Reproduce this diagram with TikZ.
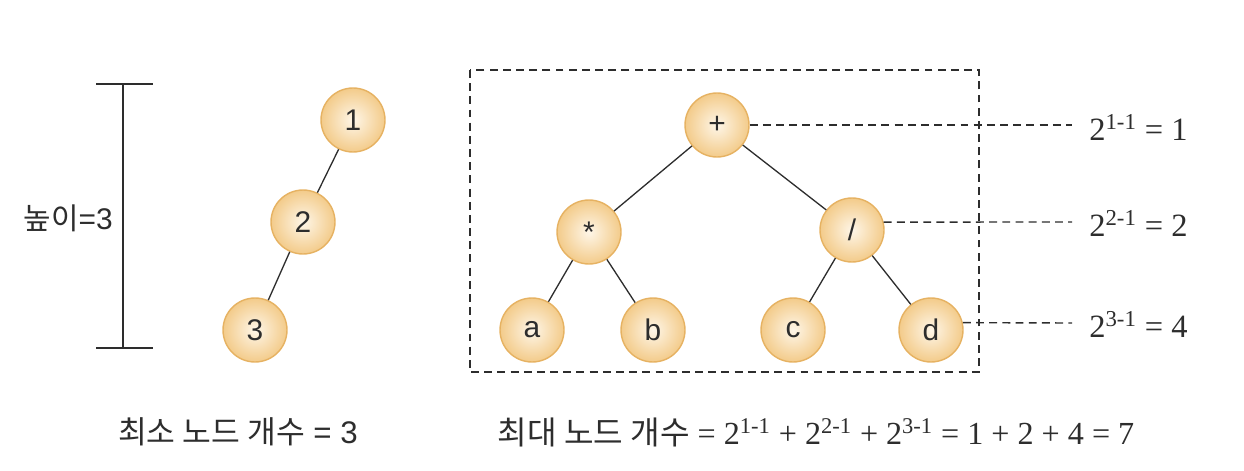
\documentclass[tikz,border=0pt]{standalone}
\usepackage{fontspec}
\setmainfont{Liberation Serif}
\newfontfamily\krfont{Noto Sans CJK KR}
\newfontfamily\arfont{Liberation Sans}
\definecolor{nodein}{RGB}{254,246,232}
\definecolor{nodeout}{RGB}{243,203,138}
\definecolor{nodeline}{RGB}{230,178,98}
\definecolor{ink}{RGB}{45,45,45}
\tikzset{
  tnode/.style={circle, minimum size=1.28cm, inner sep=0pt, draw=nodeline, line width=0.8pt,
    inner color=nodein, outer color=nodeout, font=\arfont\fontsize{17}{20}\selectfont, text=ink},
  edge/.style={draw=ink, line width=0.75pt},
  guide/.style={draw=ink, line width=0.8pt, dash pattern=on 4.5pt off 3pt},
  lbl/.style={font=\fontsize{18.5}{22}\selectfont, text=ink, inner sep=0pt},
  krlbl/.style={font=\krfont\fontsize{17}{20}\selectfont, text=ink, inner sep=0pt},
  bar/.style={draw=ink, line width=1pt}
}
\begin{document}
\begin{tikzpicture}[x=0.02cm,y=-0.02cm]
\useasboundingbox (0,0) rectangle (1244,470);
% height bar
\coordinate (htop) at (123,84);
\coordinate (hbot) at (123,348);
\coordinate (htl) at (96,84);
\coordinate (htr) at (153,84);
\coordinate (hbl) at (96,348);
\coordinate (hbr) at (153,348);
\draw[bar] (htop) -- (hbot);
\draw[bar] (htl) -- (htr);
\draw[bar] (hbl) -- (hbr);
\node[krlbl, anchor=east] (hlbl) at (113,218) {높이\arfont=3};
% left tree
\node[tnode] (n1) at (353,120) {1};
\node[tnode] (n2) at (303,222) {2};
\node[tnode] (n3) at (255,330) {3};
\draw[edge] (n1) -- (n2);
\draw[edge] (n2) -- (n3);
% dashed box
\coordinate (bx1) at (470,70);
\coordinate (bx2) at (979,372);
\draw[guide] (bx1) rectangle (bx2);
% right tree
\node[tnode] (plus) at (717,125) {+};
\node[tnode] (mul) at (589,232) {*};
\node[tnode] (div) at (852,230) {/};
\node[tnode] (a) at (532,330) {a};
\node[tnode] (b) at (653,330) {b};
\node[tnode] (c) at (793,330) {c};
\node[tnode] (d) at (931,330) {d};
\draw[edge] (plus) -- (mul);
\draw[edge] (plus) -- (div);
\draw[edge] (mul) -- (a);
\draw[edge] (mul) -- (b);
\draw[edge] (div) -- (c);
\draw[edge] (div) -- (d);
% level labels
\node[lbl, anchor=west] (l1) at (1089,127) {2\textsuperscript{1-1} = 1};
\node[lbl, anchor=west] (l2) at (1089,223) {2\textsuperscript{2-1} = 2};
\node[lbl, anchor=west] (l3) at (1089,324) {2\textsuperscript{3-1} = 4};
\coordinate (e1) at (1072,125);
\coordinate (e2) at (1072,222);
\coordinate (e3) at (1072,323);
\draw[guide] (plus.east) -- (e1);
\draw[guide] (div.14) -- (e2);
\draw[guide] (d.13) -- (e3);
% captions
\node[krlbl, font=\krfont\fontsize{17.8}{20}\selectfont] (minlbl) at (238,432) {최소 노드 개수\arfont\ = 3};
\node[lbl, font=\fontsize{18.3}{20}\selectfont] (maxlbl) at (816,432) {{\krfont 최대 노드 개수} = 2\textsuperscript{1-1} + 2\textsuperscript{2-1} + 2\textsuperscript{3-1} = 1 + 2 + 4 = 7};
\end{tikzpicture}
\end{document}
